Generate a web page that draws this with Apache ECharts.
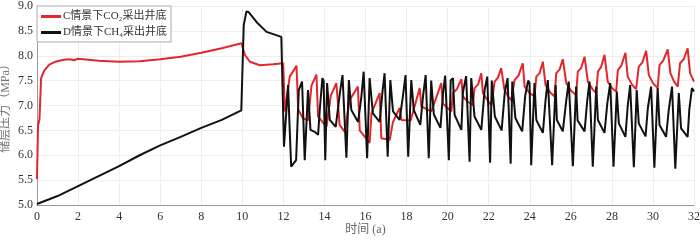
<!DOCTYPE html>
<html>

<head>
    <meta charset="utf-8">
    <script src="https://cdn.jsdelivr.net/npm/echarts@6/dist/echarts.min.js"></script>
</head>

<body style="margin: 0">
    <div id="container" style="width: 700px; height: 240px"></div>
    <script type="text/javascript">
        // C情景 CO2 采出井底压力
        var co2Time = [0, 0.05, 0.12, 0.2, 0.35, 0.6, 0.9, 1.3, 1.6, 1.8, 2.0, 2.5, 3, 4, 5, 6, 7, 8, 9, 9.96,
            10.12, 10.37, 10.85, 11.5, 11.99,
            12.07, 12.31, 12.64, 12.72, 12.96, 13.2, 13.37, 13.61, 13.69, 14.1, 14.18, 14.31, 14.58, 14.74, 14.99,
            15.23, 15.63, 15.72, 16.2, 16.29, 16.69, 16.77, 17.18, 17.34, 17.66, 17.75, 18.2, 18.64, 18.72, 19.21,
            19.69, 19.77, 20.18, 20.26, 20.45, 20.67, 20.74, 21.0, 21.23, 21.31, 21.48, 21.64, 21.72, 21.95, 22.13,
            22.29, 22.45, 22.61, 22.77, 22.95, 23.10, 23.26, 23.45, 23.66, 23.75, 24.0, 24.23, 24.32, 24.48, 24.64,
            24.77, 25.0, 25.21, 25.29, 25.45, 25.61, 25.78, 26.0, 26.26, 26.34, 26.5, 26.67, 26.83, 27.05, 27.24,
            27.32, 27.48, 27.64, 27.80, 28.0, 28.21, 28.29, 28.46, 28.66, 28.77, 28.98, 29.18, 29.31, 29.48, 29.67,
            29.80, 30.0, 30.23, 30.32, 30.5, 30.72, 30.85, 31.03, 31.21, 31.32, 31.5, 31.69, 31.81, 32.0];
        var co2Pres = [5.52, 6.6, 6.72, 7.55, 7.7, 7.82, 7.88, 7.92, 7.93, 7.91, 7.94, 7.92, 7.9, 7.88, 7.89, 7.93, 7.98, 8.06, 8.15, 8.25,
            8.02, 7.88, 7.81, 7.83, 7.85,
            6.88, 7.58, 7.80, 6.92, 6.74, 6.70, 7.40, 7.62, 6.78, 6.57, 6.57, 7.2, 7.45, 6.61, 6.47,
            7.11, 7.38, 6.5, 6.25, 6.84, 7.25, 6.34, 6.31, 6.67, 6.95, 6.71, 6.70, 7.35, 6.98, 6.88,
            7.45, 7.04, 6.88, 7.25, 7.33, 7.53, 7.18, 7.07, 7.01, 7.35, 7.42, 7.65, 7.25, 7.1, 7.01,
            7.48, 7.56, 7.75, 7.31, 7.18, 7.11, 7.51, 7.6, 7.85, 7.38, 7.25, 7.18, 7.58, 7.65, 7.88,
            7.41, 7.26, 7.18, 7.65, 7.72, 7.93, 7.45, 7.3, 7.21, 7.68, 7.75, 7.98, 7.48, 7.33, 7.25,
            7.68, 7.78, 8.02, 7.48, 7.35, 7.28, 7.71, 7.8, 8.06, 7.58, 7.42, 7.33, 7.78, 7.86, 8.10,
            7.61, 7.45, 7.35, 7.81, 7.9, 8.13, 7.65, 7.48, 7.38, 7.85, 7.93, 8.15, 7.65, 7.48];

        // D情景 CH4 采出井底压力
        var ch4Time = [0, 1, 1.5, 2, 3, 4, 5, 6, 7, 8, 9, 9.95, 10.07, 10.2, 10.3, 10.69, 11.18, 11.9, 11.99,
            12.03, 12.23, 12.3, 12.38, 12.45, 12.62, 12.75, 12.91, 13.04, 13.2, 13.32, 13.53, 13.69, 13.78, 13.9, 13.96,
            14.04, 14.13, 14.26, 14.55, 14.75, 14.88, 14.95, 15.07, 15.19, 15.31, 15.64, 15.8, 15.91, 15.99,
            16.08, 16.2, 16.36, 16.69, 16.82, 16.93, 17.0, 17.08, 17.21, 17.34, 17.66, 17.82, 17.95, 18.0,
            18.08, 18.23, 18.35, 18.67, 18.8, 18.93, 19.0, 19.08, 19.2, 19.33, 19.65, 19.77, 19.88, 19.97,
            20.06, 20.15, 20.26, 20.34, 20.67, 20.74, 20.9, 20.98, 21.07, 21.15, 21.31, 21.64, 21.8, 21.93, 21.99,
            22.07, 22.15, 22.3, 22.63, 22.78, 22.92, 22.98, 23.07, 23.15, 23.3, 23.63, 23.78, 23.92, 23.99,
            24.07, 24.23, 24.32, 24.64, 24.77, 24.88, 24.96, 25.09, 25.26, 25.32, 25.61, 25.78, 25.9, 25.98,
            26.1, 26.26, 26.33, 26.67, 26.8, 26.91, 26.98, 27.07, 27.24, 27.32, 27.64, 27.78, 27.92, 27.99,
            28.08, 28.24, 28.34, 28.66, 28.77, 28.89, 28.95, 29.07, 29.21, 29.31, 29.64, 29.75, 29.91, 29.98,
            30.07, 30.23, 30.32, 30.64, 30.77, 30.93, 30.99, 31.09, 31.26, 31.37, 31.69, 31.77, 31.9, 32.0];
        var ch4Pres = [5.02, 5.18, 5.28, 5.38, 5.58, 5.78, 6.0, 6.2, 6.37, 6.55, 6.71, 6.9, 8.62, 8.89, 8.88, 8.68, 8.48, 8.38, 8.36,
            6.17, 7.41, 6.6, 5.77, 5.74, 5.9, 7.31, 7.48, 5.9, 7.31, 6.51, 6.47, 6.41, 6.95, 7.55, 7.5,
            5.9, 7.45, 6.71, 6.57, 7.25, 7.61, 7.58, 5.95, 7.51, 6.91, 6.67, 7.18, 7.68, 7.64,
            5.94, 7.55, 6.84, 6.67, 7.25, 7.65, 7.62, 5.97, 7.51, 6.88, 6.71, 7.18, 7.61, 7.58,
            5.97, 7.51, 6.91, 6.61, 7.18, 7.61, 7.58, 5.94, 7.5, 6.82, 6.55, 7.22, 7.6, 7.57,
            5.9, 7.51, 7.55, 6.81, 6.51, 7.25, 7.59, 7.55, 5.87, 7.55, 6.78, 6.51, 7.31, 7.58, 7.55,
            5.85, 7.5, 6.78, 6.5, 7.25, 7.55, 7.52, 5.83, 7.48, 6.75, 6.48, 7.2, 7.5, 7.45,
            5.8, 7.45, 6.71, 6.45, 7.11, 7.51, 7.48, 5.8, 7.41, 6.71, 6.48, 7.11, 7.48, 7.45,
            5.78, 7.38, 6.7, 6.48, 7.1, 7.48, 7.45, 5.77, 7.38, 6.71, 6.45, 7.05, 7.45, 7.42,
            5.77, 7.28, 6.64, 6.37, 6.98, 7.41, 7.38, 5.76, 7.31, 6.64, 6.38, 6.94, 7.38, 7.36,
            5.75, 7.35, 6.61, 6.37, 6.91, 7.38, 7.35, 5.73, 7.25, 6.54, 6.37, 6.91, 7.35, 7.28];

        var xTicks = { min: 0, max: 32, interval: 2 };
        var yTicks = { min: 5, max: 9, interval: 0.5 };

        function zip(ts, vs) {
            return ts.map(function (t, i) { return [t, vs[i]]; });
        }

        var serifFont = '"Liberation Serif", "DejaVu Serif", "Noto Sans CJK SC", serif';

        var dom = document.getElementById("container");
        var myChart = echarts.init(dom);
        var option = {
            animation: false,
            backgroundColor: '#fff',
            textStyle: { fontFamily: serifFont },
            grid: { left: 37, right: 6, top: 6, bottom: 35, containLabel: false, outerBoundsMode: 'none' },
            legend: {
                orient: 'vertical',
                left: 37,
                top: 6,
                padding: [5, 4, 4, 4],
                itemGap: 5,
                itemWidth: 20,
                itemHeight: 3,
                icon: 'rect',
                backgroundColor: '#fff',
                borderColor: '#aaa',
                borderWidth: 1,
                textStyle: { fontSize: 11, color: '#333', fontFamily: serifFont, padding: [0, 0, 0, -3] },
                data: ['C情景下CO₂采出井底', 'D情景下CH₄采出井底']
            },
            xAxis: {
                type: 'value',
                min: xTicks.min,
                max: xTicks.max,
                interval: xTicks.interval,
                name: '时间 (a)',
                nameLocation: 'middle',
                nameGap: 19,
                nameMoveOverlap: false,
                nameTextStyle: { fontSize: 12, color: '#666', fontFamily: serifFont },
                axisLine: { lineStyle: { color: '#999' } },
                axisTick: { show: false },
                axisLabel: { fontSize: 12, color: '#333', margin: 6 },
                splitLine: { show: true, lineStyle: { color: '#eee' } }
            },
            yAxis: {
                type: 'value',
                min: yTicks.min,
                max: yTicks.max,
                interval: yTicks.interval,
                name: '储层压力（MPa）',
                nameLocation: 'middle',
                nameGap: 25,
                nameMoveOverlap: false,
                nameTextStyle: { fontSize: 12, color: '#777', fontFamily: serifFont },
                axisLine: { show: true, lineStyle: { color: '#999' } },
                axisTick: { show: false },
                axisLabel: {
                    fontSize: 12, color: '#333', margin: 4,
                    formatter: function (v) { return v.toFixed(1); }
                },
                splitLine: { show: true, lineStyle: { color: '#eee' } }
            },
            series: [{
                name: 'C情景下CO₂采出井底',
                type: 'line',
                data: zip(co2Time, co2Pres),
                showSymbol: false,
                symbol: 'none',
                color: '#e3262b',
                lineStyle: { width: 2, color: '#e3262b' },
                z: 2
            }, {
                name: 'D情景下CH₄采出井底',
                type: 'line',
                data: zip(ch4Time, ch4Pres),
                showSymbol: false,
                symbol: 'none',
                color: '#111',
                lineStyle: { width: 2, color: '#111' },
                z: 3
            }]
        };
        myChart.setOption(option);
    </script>
</body>

</html>
